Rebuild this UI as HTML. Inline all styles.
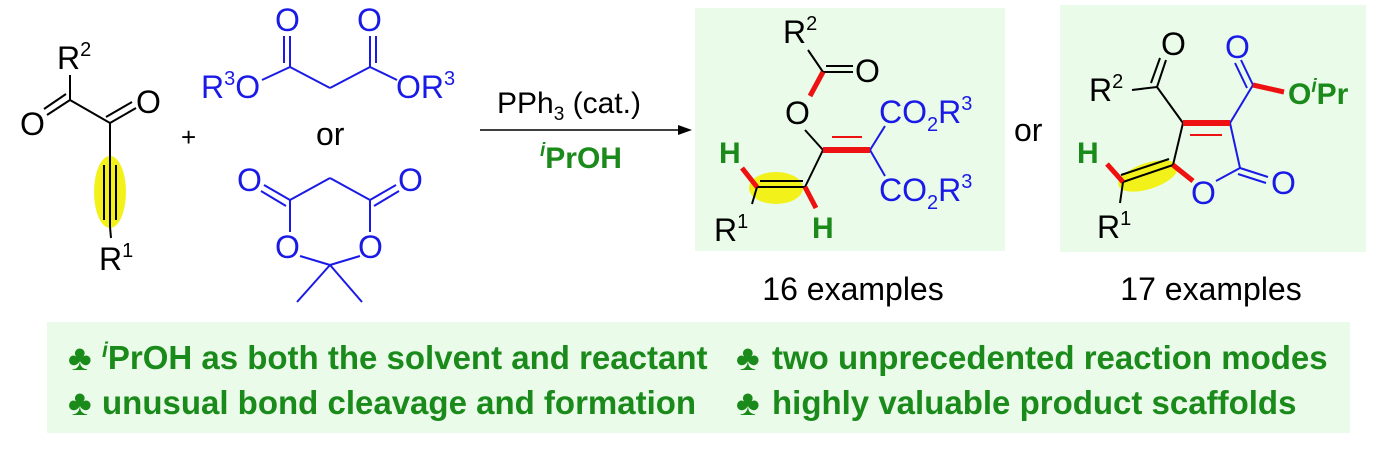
<!DOCTYPE html>
<html><head><meta charset="utf-8"><style>
html,body{margin:0;padding:0;background:#fff;}
svg{display:block;font-family:"Liberation Sans",Arial,sans-serif;}
</style></head><body>
<svg width="1393" height="451" viewBox="0 0 1393 451" xmlns="http://www.w3.org/2000/svg">
<rect x="695" y="8" width="310" height="243" fill="#eafbea"/>
<rect x="1060" y="5" width="306" height="247" fill="#eafbea"/>
<rect x="47" y="322" width="1303" height="111" fill="#eafbea"/>

<!-- left diketone -->
<ellipse cx="110" cy="192" rx="16" ry="36" fill="#f2f21a"/>
<g stroke="#000" stroke-width="2" fill="none">
<line x1="70" y1="75" x2="70" y2="100"/>
<line x1="70" y1="100" x2="47" y2="115"/><line x1="66" y1="94" x2="44" y2="109"/>
<line x1="70" y1="100" x2="110" y2="123"/>
<line x1="110" y1="123" x2="136" y2="108"/><line x1="106" y1="117" x2="132" y2="102"/>
<line x1="110" y1="123" x2="110" y2="157"/>
<line x1="110" y1="157" x2="110" y2="227"/><line x1="104" y1="165" x2="104" y2="220"/><line x1="116" y1="165" x2="116" y2="220"/>
<line x1="110" y1="227" x2="111" y2="238"/>
</g>
<g font-size="32" fill="#000">
<text x="57" y="69">R<tspan font-size="20" dy="-13">2</tspan></text>
<text x="20" y="135">O</text>
<text x="136" y="113">O</text>
<text x="99" y="270">R<tspan font-size="20" dy="-13">1</tspan></text>
<text x="181" y="146" font-size="26">+</text>
<text x="316" y="145">or</text>
</g>

<!-- malonate -->
<g stroke="#1a1ae6" stroke-width="2" fill="none">
<line x1="262" y1="80" x2="290" y2="67"/>
<line x1="290" y1="67" x2="290" y2="36"/><line x1="284" y1="63" x2="284" y2="36"/>
<line x1="290" y1="67" x2="330" y2="88"/><line x1="330" y1="88" x2="370" y2="67"/>
<line x1="370" y1="67" x2="370" y2="36"/><line x1="376" y1="63" x2="376" y2="36"/>
<line x1="370" y1="67" x2="397" y2="80"/>
<line x1="330" y1="178" x2="290" y2="200"/><line x1="330" y1="178" x2="370" y2="200"/>
<line x1="290" y1="200" x2="264" y2="185"/><line x1="286" y1="206" x2="261" y2="191"/>
<line x1="370" y1="200" x2="396" y2="185"/><line x1="374" y1="206" x2="399" y2="191"/>
<line x1="290" y1="200" x2="290" y2="232"/><line x1="370" y1="200" x2="370" y2="232"/>
<line x1="300" y1="256" x2="330" y2="265"/><line x1="360" y1="256" x2="330" y2="265"/>
<line x1="330" y1="265" x2="297" y2="302"/><line x1="330" y1="265" x2="362" y2="302"/>
</g>
<g font-size="32" fill="#1a1ae6">
<text x="201" y="98">R<tspan font-size="20" dy="-13">3</tspan><tspan dy="13">O</tspan></text>
<text x="275" y="31">O</text><text x="357" y="31">O</text>
<text x="396" y="98">OR<tspan font-size="20" dy="-13">3</tspan></text>
<text x="237" y="191">O</text><text x="398" y="191">O</text>
<text x="275" y="258">O</text><text x="358" y="258">O</text>
</g>

<!-- arrow -->
<line x1="480" y1="130" x2="682" y2="130" stroke="#000" stroke-width="1.5"/>
<polygon points="692,130 678,125 678,135" fill="#000"/>
<text x="497" y="113" font-size="30">PPh<tspan font-size="19" dy="7">3</tspan><tspan dy="-7"> (cat.)</tspan></text>
<text x="540" y="168" font-size="30" font-weight="bold" fill="#1a8a1a"><tspan font-style="italic" font-size="19" dy="-12">i</tspan><tspan dy="12">PrOH</tspan></text>

<!-- product 1 -->
<ellipse cx="776" cy="188" rx="27" ry="16" fill="#f2f21a"/>
<g stroke="#000" stroke-width="2" fill="none">
<line x1="808" y1="50" x2="823" y2="72"/>
<line x1="823" y1="72" x2="853" y2="72"/><line x1="826" y1="66" x2="853" y2="66"/>
<line x1="805" y1="130" x2="823" y2="150"/>
<line x1="823" y1="150" x2="805" y2="187"/>
<line x1="805" y1="187" x2="757" y2="187"/><line x1="803" y1="181" x2="760" y2="181"/>
<line x1="757" y1="187" x2="752" y2="204"/>
</g>
<g stroke="#1a1ae6" stroke-width="2"><line x1="870" y1="150" x2="885" y2="126"/><line x1="870" y1="150" x2="885" y2="176"/></g>
<g stroke="#ee1111">
<line x1="823" y1="72" x2="810" y2="96" stroke-width="5"/>
<line x1="823" y1="150" x2="870" y2="150" stroke-width="6"/>
<line x1="832" y1="137" x2="862" y2="137" stroke-width="2"/>
<line x1="757" y1="187" x2="742" y2="168" stroke-width="5"/>
<line x1="805" y1="187" x2="816" y2="208" stroke-width="5"/>
</g>
<g font-size="32" fill="#000">
<text x="783" y="43">R<tspan font-size="20" dy="-13">2</tspan></text>
<text x="855" y="82">O</text>
<text x="785" y="124">O</text>
<text x="714" y="241">R<tspan font-size="20" dy="-13">1</tspan></text>
<text x="879" y="123" fill="#1a1ae6">CO<tspan font-size="20" dy="8">2</tspan><tspan dy="-8">R</tspan><tspan font-size="20" dy="-13">3</tspan></text>
<text x="879" y="201" fill="#1a1ae6">CO<tspan font-size="20" dy="8">2</tspan><tspan dy="-8">R</tspan><tspan font-size="20" dy="-13">3</tspan></text>
<text x="1014" y="141">or</text>
<text x="853" y="300" text-anchor="middle">16 examples</text>
<text x="1211" y="300" text-anchor="middle">17 examples</text>
</g>
<g font-size="30" font-weight="bold" fill="#1a8a1a"><text x="719" y="163">H</text><text x="812" y="238">H</text></g>

<!-- product 2 -->
<ellipse cx="1148" cy="176" rx="31" ry="13" transform="rotate(-18 1148 176)" fill="#f2f21a"/>
<g stroke="#000" stroke-width="2" fill="none">
<line x1="1132" y1="90" x2="1157" y2="87"/>
<line x1="1157" y1="87" x2="1166" y2="60"/><line x1="1151" y1="83" x2="1160" y2="58"/>
<line x1="1157" y1="87" x2="1183" y2="123"/>
<line x1="1183" y1="123" x2="1173" y2="165"/>
<line x1="1173" y1="165" x2="1123" y2="182"/><line x1="1169" y1="159" x2="1121" y2="175"/>
<line x1="1123" y1="182" x2="1120" y2="203"/>
</g>
<g stroke="#1a1ae6" stroke-width="2" fill="none">
<line x1="1230" y1="123" x2="1253" y2="85"/>
<line x1="1253" y1="85" x2="1241" y2="60"/><line x1="1247" y1="88" x2="1235" y2="63"/>
<line x1="1230" y1="123" x2="1240" y2="168"/>
<line x1="1240" y1="168" x2="1268" y2="177"/><line x1="1238" y1="174" x2="1266" y2="183"/>
<line x1="1240" y1="168" x2="1216" y2="181"/>
</g>
<g stroke="#ee1111">
<line x1="1183" y1="123" x2="1230" y2="123" stroke-width="6"/>
<line x1="1190" y1="135" x2="1222" y2="135" stroke-width="2"/>
<line x1="1253" y1="85" x2="1284" y2="92" stroke-width="5"/>
<line x1="1173" y1="165" x2="1193" y2="181" stroke-width="5"/>
<line x1="1123" y1="182" x2="1107" y2="164" stroke-width="5"/>
</g>
<g font-size="32">
<text x="1161" y="55">O</text>
<text x="1089" y="101">R<tspan font-size="20" dy="-13">2</tspan></text>
<text x="1225" y="58" fill="#1a1ae6">O</text>
<text x="1191" y="204" fill="#1a1ae6">O</text>
<text x="1271" y="194" fill="#1a1ae6">O</text>
<text x="1097" y="238">R<tspan font-size="20" dy="-13">1</tspan></text>
</g>
<text x="1288" y="104" font-size="30" font-weight="bold" fill="#1a8a1a">O<tspan font-style="italic" font-size="19" dy="-12">i</tspan><tspan dy="12">Pr</tspan></text>
<text x="1077" y="163" font-size="30" font-weight="bold" fill="#1a8a1a">H</text>

<!-- bottom -->
<g font-size="33" font-weight="bold" fill="#1a8a1a">
<text x="68" y="370" font-size="36">♣</text><text x="102" y="369"><tspan font-style="italic" font-size="21" dy="-12">i</tspan><tspan dy="12">PrOH as both the solvent and reactant</tspan></text>
<text x="68" y="415" font-size="36">♣</text><text x="102" y="414">unusual bond cleavage and formation</text>
<text x="736" y="370" font-size="36">♣</text><text x="772" y="369">two unprecedented reaction modes</text>
<text x="736" y="415" font-size="36">♣</text><text x="772" y="414">highly valuable product scaffolds</text>
</g>
</svg>
</body></html>
